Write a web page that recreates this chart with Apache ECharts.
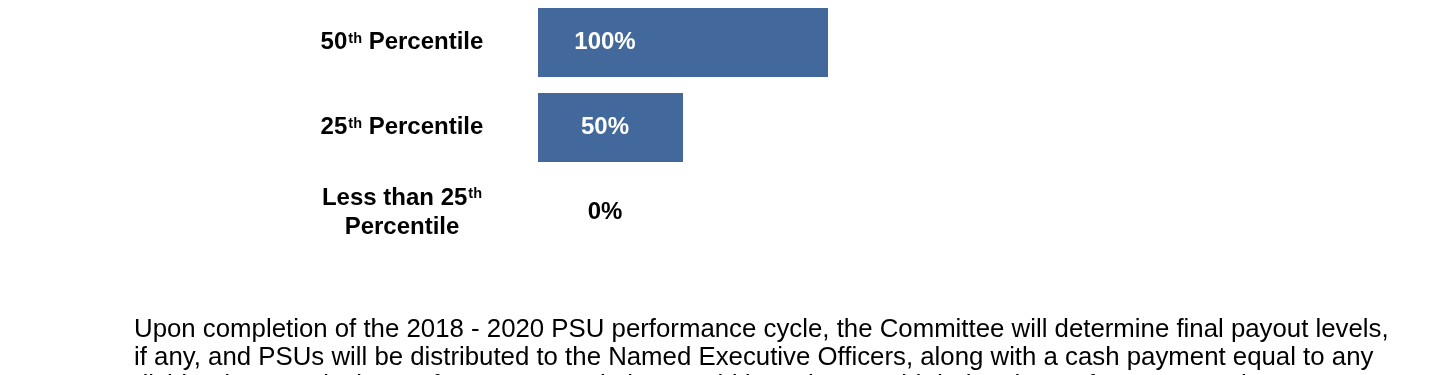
<!DOCTYPE html>
<html>
<head>
<meta charset="utf-8">
<script src="https://cdn.jsdelivr.net/npm/echarts@6/dist/echarts.min.js"></script>
<style>
html,body{margin:0;padding:0;background:#fff;}
#chart{width:1440px;height:375px;}
</style>
</head>
<body>
<div id="chart"></div>
<script>
// Data
const categories = ['50th Percentile', '25th Percentile', 'Less than 25th\nPercentile'];
const payoutValues = [100, 50, 0];
const paragraphLines = [
  'Upon completion of the 2018 - 2020 PSU performance cycle, the Committee will determine final payout levels,',
  'if any, and PSUs will be distributed to the Named Executive Officers, along with a cash payment equal to any',
  'dividends or equivalents of common stock that would have been paid during the performance cycle.'
];

const FONT = '"Liberation Sans", Arial, Helvetica, sans-serif';

function richLabel(s) {
  return s.split('\n').map(line =>
    line.replace(/(\d+)th/g, '$1{sup|th}').split(/(\{sup\|th\})/).map(part =>
      part === '{sup|th}' ? part : (part ? '{b|' + part + '}' : '')
    ).join('')
  ).join('\n');
}

const chart = echarts.init(document.getElementById('chart'), null, {renderer: 'canvas'});
chart.setOption({
  animation: false,
  backgroundColor: '#ffffff',
  grid: {left: 538, width: 290, top: -3, height: 258, containLabel: false},
  xAxis: {type: 'value', min: 0, max: 100, show: false},
  yAxis: {
    type: 'category',
    data: categories,
    inverse: true,
    axisLine: {show: false},
    axisTick: {show: false},
    splitLine: {show: false},
    axisLabel: {
      margin: 136,
      align: 'center',
      formatter: v => richLabel(v),
      rich: {
        b: {fontFamily: FONT, fontSize: 24, fontWeight: 'bold', color: '#000', lineHeight: 29},
        sup: {fontFamily: FONT, fontSize: 14.5, fontWeight: 'bold', color: '#000', lineHeight: 29, verticalAlign: 'top', padding: [3, 0, 0, 1]}
      }
    }
  },
  series: [{
    type: 'bar',
    barWidth: 69,
    data: payoutValues.map(v => ({value: v, label: {color: v > 0 ? '#ffffff' : '#000000'}})),
    itemStyle: {color: '#43699c'},
    label: {
      show: true,
      position: [67, '50%'],
      align: 'center',
      verticalAlign: 'middle',
      formatter: '{c}%',
      fontFamily: FONT,
      fontSize: 24,
      fontWeight: 'bold'
    }
  }],
  graphic: [{
    type: 'text',
    left: 134,
    top: 316,
    style: {
      text: paragraphLines.join('\n'),
      fontFamily: FONT,
      fontSize: 25.8,
      lineHeight: 28,
      fill: '#000'
    }
  }]
});
</script>
</body>
</html>
